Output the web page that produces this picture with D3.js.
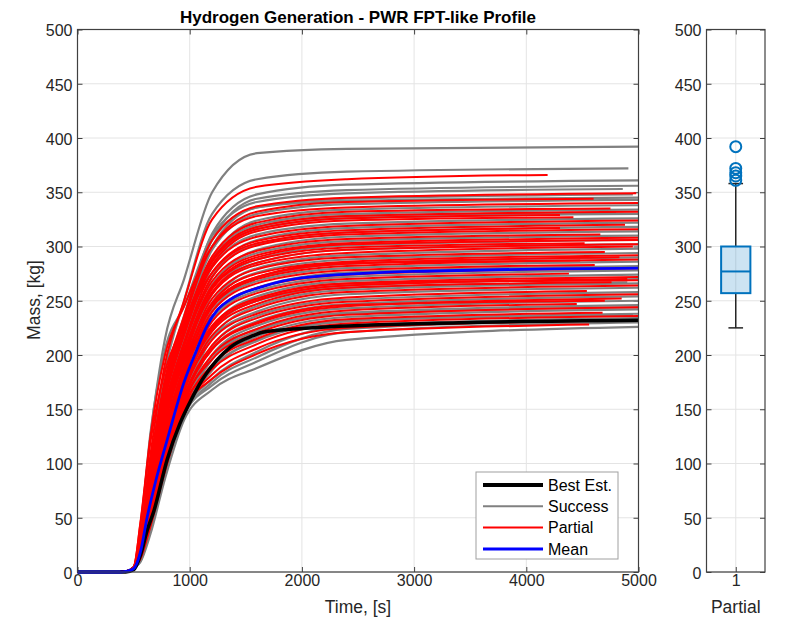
<!DOCTYPE html>
<html>
<head>
<meta charset="utf-8">
<script src="https://cdn.jsdelivr.net/npm/d3@7"></script>
<style>
    body { margin: 0; background: #fff; }
    svg { display: block; font-family: 'Liberation Sans', Arial, sans-serif; }
    .tick text { fill: #262626; font-size: 16px; }
    .tick line { stroke: #404040; }
</style>
</head>
<body>
<div id="chart"></div>
<script>
// hydrogen mass ensemble
// all runs share the flat start, then each run is given at knotTimes
let onsetTime = [0, 380, 450, 500];
let onsetMass = [0, 0, 1, 4];
let knotTimes = [560, 650, 780, 950, 1200, 1600, 2400];

// [m560, m650, m780, m950, m1200, m1600, m2400, tEnd, mEnd]
let successRuns = [
    [35, 125, 215, 270, 350, 386, 390, 5000, 392],
    [26, 98, 185, 250, 330, 362, 369, 4910, 372],
    [24, 88, 170, 232, 312, 348, 357, 5000, 361],
    [22, 80, 160, 228, 306, 344, 352, 5000, 356],
    [38, 128, 205, 245, 310, 341, 349, 4860, 353],
    [23, 84, 162, 222, 300, 336, 344, 4950, 348],
    [24, 90, 172, 236, 306, 336, 342, 5000, 345],
    [25, 90, 166, 226, 297, 330, 339, 5000, 343],
    [21, 78, 150, 212, 288, 324, 334, 5000, 338],
    [23, 85, 158, 218, 290, 320, 330, 5000, 334],
    [20, 76, 150, 214, 286, 318, 328, 4800, 331],
    [20, 74, 142, 206, 282, 316, 326, 5000, 330],
    [22, 82, 150, 210, 281, 311, 321, 5000, 326],
    [19, 70, 135, 198, 272, 306, 317, 5000, 322],
    [21, 78, 142, 202, 272, 302, 313, 5000, 318],
    [18, 66, 128, 190, 262, 297, 309, 5000, 314],
    [20, 74, 136, 196, 265, 294, 305, 5000, 310],
    [17, 64, 124, 186, 256, 288, 301, 5000, 306],
    [20, 70, 130, 190, 257, 285, 297, 5000, 302],
    [16, 60, 118, 178, 248, 280, 292, 5000, 298],
    [19, 66, 122, 182, 248, 276, 288, 5000, 294],
    [15, 56, 110, 170, 240, 271, 284, 5000, 290],
    [18, 63, 116, 176, 241, 268, 280, 5000, 286],
    [14, 52, 106, 165, 232, 262, 276, 5000, 282],
    [17, 60, 110, 170, 233, 259, 272, 5000, 278],
    [13, 50, 100, 160, 225, 254, 268, 5000, 274],
    [16, 56, 106, 165, 224, 250, 264, 5000, 270],
    [13, 50, 104, 162, 222, 250, 262, 4900, 267],
    [13, 48, 98, 156, 216, 245, 260, 5000, 266],
    [15, 53, 104, 162, 215, 240, 256, 5000, 262],
    [12, 46, 96, 152, 208, 236, 251, 5000, 258],
    [14, 50, 100, 158, 206, 231, 247, 5000, 254],
    [11, 44, 94, 150, 200, 227, 243, 5000, 250],
    [13, 46, 97, 154, 197, 222, 239, 5000, 246],
    [12, 46, 96, 150, 196, 224, 238, 5000, 244],
    [11, 42, 92, 148, 190, 217, 235, 5000, 242],
    [12, 44, 94, 150, 188, 213, 231, 5000, 238],
    [11, 42, 92, 146, 186, 214, 232, 4950, 237],
    [10, 38, 90, 146, 178, 203, 227, 5000, 234],
    [10, 40, 90, 144, 175, 198, 224, 5000, 232],
    [11, 40, 92, 145, 172, 194, 221, 5000, 230],
    [9, 35, 86, 140, 168, 188, 214, 5000, 226]
];

let partialRuns = [
    [32, 108, 192, 250, 325, 355, 362, 4190, 366],
    [30, 100, 178, 236, 306, 337, 345, 4980, 349],
    [28, 98, 174, 232, 300, 332, 341, 4600, 344],
    [45, 125, 200, 245, 300, 328, 336, 5000, 340],
    [27, 94, 166, 224, 291, 322, 332, 4750, 335],
    [30, 98, 170, 228, 288, 318, 328, 5000, 332],
    [26, 92, 164, 222, 286, 316, 326, 4300, 329],
    [26, 90, 160, 218, 283, 314, 324, 4420, 327],
    [29, 95, 164, 220, 281, 309, 319, 5000, 324],
    [25, 86, 154, 212, 276, 305, 315, 4880, 320],
    [44, 120, 185, 228, 276, 303, 313, 4300, 317],
    [24, 84, 150, 208, 272, 301, 311, 5000, 316],
    [28, 90, 155, 210, 268, 296, 307, 4660, 311],
    [23, 80, 143, 202, 264, 292, 303, 5000, 308],
    [22, 78, 140, 198, 262, 290, 302, 5000, 306],
    [27, 86, 148, 204, 261, 288, 299, 4520, 303],
    [22, 76, 138, 196, 258, 285, 297, 5000, 302],
    [26, 84, 145, 200, 256, 283, 294, 4950, 300],
    [21, 72, 132, 190, 252, 279, 290, 4700, 295],
    [25, 80, 140, 194, 248, 275, 286, 5000, 292],
    [20, 70, 127, 184, 245, 272, 284, 4830, 290],
    [24, 78, 134, 188, 244, 270, 282, 5000, 288],
    [20, 72, 130, 186, 246, 272, 285, 4480, 287],
    [19, 68, 122, 180, 240, 266, 278, 4610, 283],
    [23, 74, 128, 182, 236, 262, 274, 5000, 280],
    [18, 64, 116, 174, 231, 257, 270, 4380, 275],
    [22, 70, 122, 176, 227, 252, 266, 5000, 272],
    [17, 60, 112, 170, 224, 250, 264, 4900, 270],
    [17, 62, 116, 170, 226, 252, 266, 5000, 269],
    [21, 66, 118, 172, 222, 247, 262, 4760, 267],
    [16, 58, 110, 166, 218, 243, 258, 5000, 264],
    [20, 62, 114, 168, 214, 238, 253, 4540, 259],
    [15, 54, 106, 162, 209, 234, 249, 5000, 256],
    [19, 58, 108, 162, 205, 229, 245, 4850, 252],
    [15, 54, 106, 160, 206, 230, 246, 4700, 250],
    [14, 50, 100, 156, 200, 224, 241, 4450, 247],
    [18, 54, 104, 158, 196, 220, 237, 5000, 244],
    [13, 46, 96, 152, 191, 215, 233, 4680, 239],
    [16, 50, 100, 154, 187, 210, 229, 5000, 236],
    [12, 42, 93, 149, 182, 206, 225, 4920, 232],
    [14, 44, 96, 150, 178, 201, 221, 4560, 228]
];

let bestTime = [0, 430, 500, 560, 620, 680, 800, 910, 1000, 1110, 1240, 1360, 1570, 1650, 2000, 3400, 5000];
let bestMass = [0, 0, 2, 15, 38, 56, 104, 136, 156, 177, 195, 207, 218, 221, 224.5, 229.7, 232];

let meanTime = [0, 380, 430, 500, 560, 620, 700, 800, 950, 1060, 1150, 1250, 1360, 1650, 2000, 3000, 5000];
let meanMass = [0, 0, 0.5, 3, 18, 50, 85, 122, 175, 204, 226, 242, 251, 263, 271, 277, 280];

// box plot of the partial runs
let boxLabels = ['1'];
let boxStats = { q1: 257, median: 277, q3: 300, lo: 225, hi: 358 };
let outliers = [392, 372, 368, 365, 361];

let xTicks = [0, 1000, 2000, 3000, 4000, 5000];
let yTicks = d3.range(0, 501, 50);

let legendItems = [
    { label: 'Best Est.', color: '#000000', width: 4 },
    { label: 'Success', color: '#808080', width: 2 },
    { label: 'Partial', color: '#ff0000', width: 2 },
    { label: 'Mean', color: '#0000ff', width: 3 }
];

let svg, x, y, bx;

document.addEventListener('DOMContentLoaded', function() {
    svg = d3.select('#chart').append('svg')
        .attr('width', 790)
        .attr('height', 623);
    init();
});

function init() {
    x = d3.scaleLinear().domain([0, 5000]).range([77.5, 638.5]);
    y = d3.scaleLinear().domain([0, 500]).range([572, 29.5]);
    bx = d3.scaleLinear().domain([0.5, 1.5]).range([706.5, 765]);

    drawFrame(x, xTicks, d => d);
    drawFrame(bx, [1], () => boxLabels[0]);

    drawRuns();
    drawBox();
    drawLegend();
    drawBorders();

    svg.append('text')
        .attr('x', 358).attr('y', 23)
        .attr('text-anchor', 'middle')
        .attr('font-weight', 'bold')
        .attr('font-size', 17)
        .attr('fill', '#000')
        .text('Hydrogen Generation - PWR FPT-like Profile');

    svg.append('text')
        .attr('x', 358).attr('y', 613)
        .attr('text-anchor', 'middle')
        .attr('font-size', 17.5)
        .attr('fill', '#262626')
        .text('Time, [s]');

    svg.append('text')
        .attr('transform', 'translate(40,300) rotate(-90)')
        .attr('text-anchor', 'middle')
        .attr('font-size', 17.5)
        .attr('fill', '#262626')
        .text('Mass, [kg]');

    svg.append('text')
        .attr('x', bx(1)).attr('y', 613)
        .attr('text-anchor', 'middle')
        .attr('font-size', 17.5)
        .attr('fill', '#262626')
        .text('Partial');
}

// grid, ticks and tick labels for one axes box
function drawFrame(xs, xt, fmt) {
    let [x0, x1] = xs.range();
    let [y0, y1] = y.range();
    let g = svg.append('g');

    g.selectAll('.hgrid').data(yTicks).join('line')
        .attr('x1', x0).attr('x2', x1)
        .attr('y1', d => y(d)).attr('y2', d => y(d))
        .attr('stroke', '#e4e4e4');
    g.selectAll('.vgrid').data(xt).join('line')
        .attr('y1', y0).attr('y2', y1)
        .attr('x1', d => xs(d)).attr('x2', d => xs(d))
        .attr('stroke', '#e4e4e4');

    let left = g.append('g').attr('transform', `translate(${x0},0)`)
        .call(d3.axisLeft(y).tickValues(yTicks).tickSize(-5).tickPadding(5));
    let right = g.append('g').attr('transform', `translate(${x1},0)`)
        .call(d3.axisRight(y).tickValues(yTicks).tickSize(-5).tickFormat(''));
    let bottom = g.append('g').attr('transform', `translate(0,${y0})`)
        .call(d3.axisBottom(xs).tickValues(xt).tickSize(-5).tickPadding(3).tickFormat(fmt));
    let top = g.append('g').attr('transform', `translate(0,${y1})`)
        .call(d3.axisTop(xs).tickValues(xt).tickSize(-5).tickFormat(''));

    [left, right, bottom, top].forEach(a => {
        a.select('.domain').remove();
        a.attr('font-family', null).attr('font-size', null);
    });
    left.selectAll('text').attr('dy', '0.4em');
}

function runPoints(run) {
    let pts = onsetTime.map((t, i) => [t, onsetMass[i]]);
    knotTimes.forEach((t, i) => pts.push([t, run[i]]));
    pts.push([run[7], run[8]]);
    return pts;
}

function drawRuns() {
    let line = d3.line()
        .x(d => x(d[0]))
        .y(d => y(d[1]))
        .curve(d3.curveMonotoneX);

    let g = svg.append('g');

    g.selectAll('.success').data(successRuns).join('path')
        .attr('d', d => line(runPoints(d)))
        .attr('fill', 'none')
        .attr('stroke', '#808080')
        .attr('stroke-width', 2.2);

    g.selectAll('.partial').data(partialRuns).join('path')
        .attr('d', d => line(runPoints(d)))
        .attr('fill', 'none')
        .attr('stroke', '#ff0000')
        .attr('stroke-width', 2);

    g.append('path')
        .attr('d', line(bestTime.map((t, i) => [t, bestMass[i]])))
        .attr('fill', 'none')
        .attr('stroke', '#000')
        .attr('stroke-width', 3.5);

    g.append('path')
        .attr('d', line(meanTime.map((t, i) => [t, meanMass[i]])))
        .attr('fill', 'none')
        .attr('stroke', '#0000ff')
        .attr('stroke-width', 2.8);
}

function drawBox() {
    let g = svg.append('g');
    let c = bx(1);
    let half = bx(1.25) - bx(1);
    let cap = bx(1.125) - bx(1);

    // whiskers
    g.append('line')
        .attr('x1', c).attr('x2', c)
        .attr('y1', y(boxStats.q3)).attr('y2', y(boxStats.hi))
        .attr('stroke', '#262626').attr('stroke-width', 1.5);
    g.append('line')
        .attr('x1', c).attr('x2', c)
        .attr('y1', y(boxStats.q1)).attr('y2', y(boxStats.lo))
        .attr('stroke', '#262626').attr('stroke-width', 1.5);
    [boxStats.lo, boxStats.hi].forEach(v => {
        g.append('line')
            .attr('x1', c - cap).attr('x2', c + cap)
            .attr('y1', y(v)).attr('y2', y(v))
            .attr('stroke', '#262626').attr('stroke-width', 1.5);
    });

    g.append('rect')
        .attr('x', c - half).attr('width', 2 * half)
        .attr('y', y(boxStats.q3))
        .attr('height', y(boxStats.q1) - y(boxStats.q3))
        .attr('fill', '#0072bd').attr('fill-opacity', 0.2)
        .attr('stroke', '#0072bd').attr('stroke-width', 2);

    g.append('line')
        .attr('x1', c - half).attr('x2', c + half)
        .attr('y1', y(boxStats.median)).attr('y2', y(boxStats.median))
        .attr('stroke', '#0072bd').attr('stroke-width', 2);

    g.selectAll('circle').data(outliers).join('circle')
        .attr('cx', c).attr('cy', d => y(d))
        .attr('r', 5.5)
        .attr('fill', 'none')
        .attr('stroke', '#0072bd').attr('stroke-width', 2);
}

function drawLegend() {
    let g = svg.append('g').attr('transform', 'translate(476,472)');
    g.append('rect')
        .attr('width', 142).attr('height', 87)
        .attr('fill', '#fff')
        .attr('stroke', '#a0a0a0');

    let rows = g.selectAll('.item').data(legendItems).join('g')
        .attr('transform', (d, i) => `translate(0,${13 + i * 21.3})`);
    rows.append('line')
        .attr('x1', 7).attr('x2', 67)
        .attr('stroke', d => d.color)
        .attr('stroke-width', d => d.width);
    rows.append('text')
        .attr('x', 72).attr('dy', '0.36em')
        .attr('font-size', 16)
        .attr('fill', '#000')
        .text(d => d.label);
}

function drawBorders() {
    [x, bx].forEach(s => {
        let [x0, x1] = s.range();
        svg.append('rect')
            .attr('x', x0).attr('y', y(500))
            .attr('width', x1 - x0).attr('height', y(0) - y(500))
            .attr('fill', 'none')
            .attr('stroke', '#404040')
            .attr('stroke-width', 1.2);
    });
}
</script>
</body>
</html>
